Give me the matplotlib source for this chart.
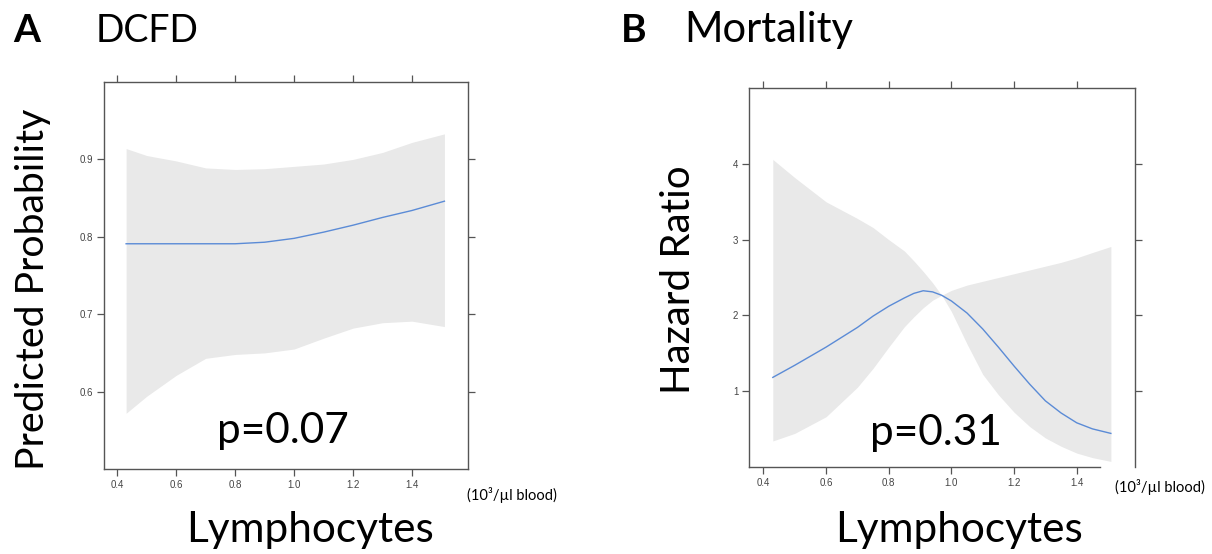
import matplotlib
matplotlib.use("Agg")
import matplotlib.pyplot as plt

# ---------------- data ----------------
# Panel A: DCFD (predicted probability vs lymphocytes)
xa = [0.43, 0.5, 0.6, 0.7, 0.8, 0.9, 1.0, 1.1, 1.2, 1.3, 1.4, 1.51]
a_fit = [0.791, 0.791, 0.791, 0.791, 0.791, 0.793, 0.798, 0.806, 0.815, 0.825, 0.834, 0.846]
a_upper = [0.914, 0.905, 0.898, 0.889, 0.887, 0.888, 0.891, 0.894, 0.900, 0.909, 0.922, 0.933]
a_lower = [0.572, 0.594, 0.621, 0.643, 0.648, 0.650, 0.655, 0.669, 0.682, 0.689, 0.691, 0.684]

# Panel B: Mortality (hazard ratio vs lymphocytes)
xb = [0.43, 0.5, 0.6, 0.7, 0.75, 0.8, 0.85, 0.88, 0.91, 0.94, 0.969, 1.0, 1.05, 1.1,
      1.15, 1.2, 1.25, 1.3, 1.35, 1.4, 1.45, 1.509]
b_fit = [1.18, 1.34, 1.58, 1.84, 1.99, 2.12, 2.23, 2.29, 2.325, 2.31, 2.265, 2.19, 2.03, 1.82,
         1.58, 1.33, 1.09, 0.87, 0.71, 0.58, 0.50, 0.44]
b_band1 = [4.06, 3.82, 3.50, 3.28, 3.16, 3.00, 2.85, 2.72, 2.58, 2.43, 2.265, 2.05, 1.62, 1.22,
           0.95, 0.72, 0.53, 0.38, 0.27, 0.18, 0.12, 0.07]
b_band2 = [0.34, 0.44, 0.66, 1.05, 1.30, 1.58, 1.85, 1.98, 2.10, 2.20, 2.265, 2.33, 2.40, 2.45,
           2.50, 2.55, 2.60, 2.65, 2.70, 2.76, 2.83, 2.91]

x_ticks = [0.4, 0.6, 0.8, 1.0, 1.2, 1.4]
a_yticks = [0.6, 0.7, 0.8, 0.9]
b_yticks = [1, 2, 3, 4]

# ---------------- style ----------------
W, H = 1212, 554
fig = plt.figure(figsize=(W / 100, H / 100), dpi=100)
BIG = ["Lato", "DejaVu Sans"]
band_col = "#e9e9e9"
line_col = "#5b8bd6"
spine_col = "#555555"


def style_axes(ax, xlim, ylim, yticks):
    ax.set_xlim(*xlim)
    ax.set_ylim(*ylim)
    ax.set_xticks(x_ticks)
    ax.set_xticklabels([f"{v:.1f}" for v in x_ticks])
    ax.set_yticks(yticks)
    ax.set_yticklabels([f"{v:g}" if isinstance(v, int) else f"{v:.1f}" for v in yticks])
    for s in ax.spines.values():
        s.set_color(spine_col)
        s.set_linewidth(1.0)
    ax.tick_params(axis="both", which="both", direction="out", length=5, width=0.9,
                   color=spine_col, labelsize=7, labelcolor="#444444",
                   top=True, right=True, labeltop=False, labelright=False, pad=3)
    for lab in ax.get_xticklabels() + ax.get_yticklabels():
        lab.set_family("Liberation Sans")


# Panel A
axA = fig.add_axes([104 / W, 1 - 469 / H, 364 / W, 387 / H])
axA.fill_between(xa, a_lower, a_upper, color=band_col, linewidth=0)
axA.plot(xa, a_fit, color=line_col, linewidth=1.0)
style_axes(axA, (0.355, 1.59), (0.5, 1.0), a_yticks)

# Panel B
axB = fig.add_axes([749.3 / W, 1 - 466.7 / H, 385.7 / W, 378.4 / H])
axB.fill_between(xb, b_band1, b_band2, color=band_col, linewidth=0)
axB.plot(xb, b_fit, color=line_col, linewidth=1.0)
style_axes(axB, (0.355, 1.586), (0.0, 5.0), b_yticks)
axB.spines["bottom"].set_bounds(0.355, 1.475)

# ---------------- text ----------------
def ftext(x, y, s, **kw):
    fig.text(x / W, 1 - y / H, s, **kw)

ftext(13, 42, "A", fontsize=28, fontweight="bold", family=BIG, va="baseline")
ftext(96, 42, "DCFD", fontsize=27, family=BIG, va="baseline")
ftext(621, 42, "B", fontsize=28, fontweight="bold", family=BIG, va="baseline")
ftext(684, 42, "Mortality", fontsize=30, family=BIG, va="baseline")

ftext(310, 542, "Lymphocytes", fontsize=30.5, family=BIG, ha="center", va="baseline")
ftext(959, 542, "Lymphocytes", fontsize=30.5, family=BIG, ha="center", va="baseline")

ftext(44, 289, "Predicted Probability", fontsize=28.3, family=BIG, rotation=90,
      ha="center", va="baseline", rotation_mode="anchor")
ftext(690, 280, "Hazard Ratio", fontsize=29, family=BIG, rotation=90,
      ha="center", va="baseline", rotation_mode="anchor")

ftext(217, 443, "p=0.07", fontsize=30.5, family=BIG, va="baseline")
ftext(870, 445, "p=0.31", fontsize=30.5, family=BIG, va="baseline")

ftext(512, 495, "(10³/µl blood)", fontsize=10.5, family=BIG, ha="center", va="center")
ftext(1160, 487, "(10³/µl blood)", fontsize=10.5, family=BIG, ha="center", va="center")

fig.savefig("out.png", dpi=100)
